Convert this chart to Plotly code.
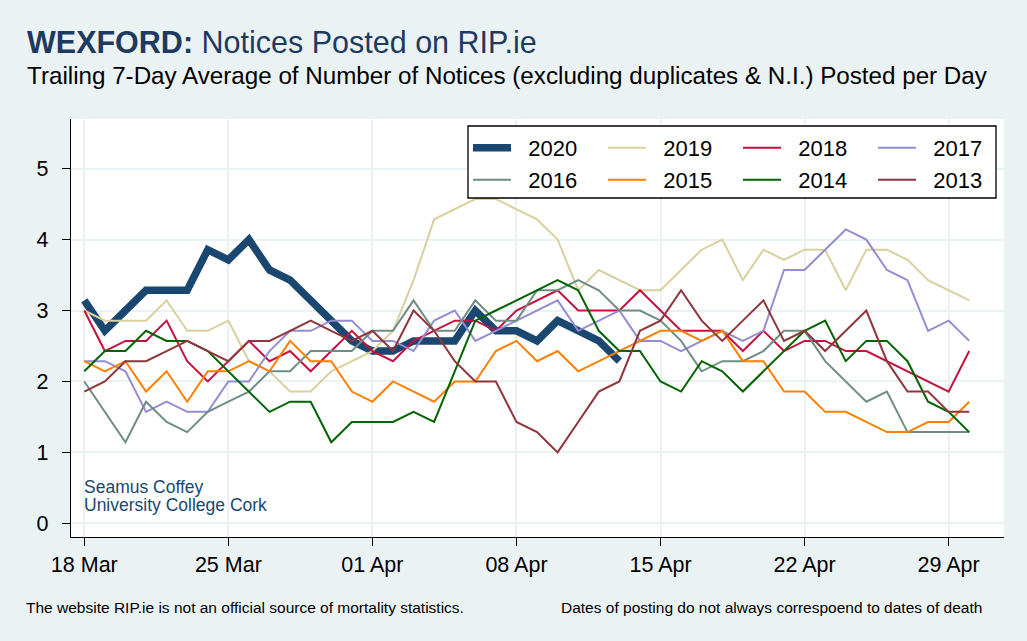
import plotly.graph_objects as go
import pandas as pd

# Trailing 7-day averages (in sevenths)
start_date = "2020-03-18"
n_days = 44
years = ["2020", "2019", "2018", "2017", "2016", "2015", "2014", "2013"]

v2020 = [22,19,21,23,23,23,27,26,28,25,24,22,20,18,17,17,18,18,18,21,19,19,18,20,19,18,16]
v2019 = [21,20,20,20,22,19,19,20,16,15,13, 13,15,16,17,19,24,30,31,32,32,31,
         30,28,23,25,24,23,23,25,27,28,24, 27,26,27,27,23,27,27,26,24,23,22]
v2018 = [21,17,18,18,20,16,14,16,18,16,17, 15,17,19,17,16,18,19,20,20,19,21,
         22,23,21,21,21,23,21,19,19,19,17, 19,17,18,18,17,17,16,15,14,13,17]
v2017 = [16,16,15,11,12,11,11,14,14,17,19, 19,20,20,18,18,17,20,21,18,19,20,
         21,22,19,20,21,18,18,17,18,19,18, 19,25,25,27,29,28,25,24,19,20,18]
v2016 = [14,11,8,12,10,9,11,12,13,15,15, 17,17,17,19,19,22,19,19,22,20,20,
         23,23,24,23,21,21,20,18,15,16,16, 17,19,19,16,14,12,13,9,9,9,9]
v2015 = [16,15,16,13,15,12,15,15,16,15,18, 16,16,13,12,14,13,12,14,14,17,18,
         16,17,15,16,17,18,19,19,18,19,16, 16,13,13,11,11,10,9,9,10,10,12]
v2014 = [15,17,17,19,18,18,17,15,13,11,12, 12,8,10,10,10,11,10,15,20,21,22,
         23,24,23,19,17,17,14,13,16,15,13, 15,17,19,20,16,18,18,16,12,11,9]
v2013 = [13,14,16,16,17,18,17,16,18,18,19, 20,19,18,19,17,21,19,16,14,14,10,
         9,7,10,13,14,19,20,23,20,18,20, 22,18,19,17,19,21,16,13,13,11,11]

series_values = [v2020, v2019, v2018, v2017, v2016, v2015, v2014, v2013]
colors = ["#1a476f", "#d9d09e", "#c8103e", "#938dd2", "#6e8e84", "#ff8000", "#006400", "#90353b"]
widths = [7.5, 2, 2, 2, 2, 2, 2, 2]

dates = pd.date_range(start_date, periods=n_days, freq="D")

FONT = "Liberation Sans, Arial, sans-serif"
BG = "#eaf2f3"

fig = go.Figure()
for i, (yr, vals) in enumerate(zip(years, series_values)):
    fig.add_trace(go.Scatter(
        x=dates[:len(vals)], y=[v / 7 for v in vals], mode="lines",
        name="\u00a0\u00a0" + yr,
        line=dict(color=colors[i], width=widths[i]),
        legend="legend" if i < 4 else "legend2",
    ))

L, R, T, B = 71, 23, 119, 104
W, H = 1027, 641
pw, ph = W - L - R, H - T - B

def px(x):
    return (x - L) / pw

def py(y):
    return (H - B - y) / ph

legend_common = dict(
    orientation="h", xanchor="left", yanchor="top", bgcolor="rgba(0,0,0,0)",
    borderwidth=0, font=dict(family=FONT, size=22, color="black"),
    entrywidth=82, entrywidthmode="pixels", itemwidth=38, tracegroupgap=0,
)

fig.update_layout(
    width=W, height=H, autosize=False,
    margin=dict(l=L, r=R, t=T, b=B),
    paper_bgcolor=BG, plot_bgcolor="white",
    font=dict(family=FONT, color="black"),
    showlegend=True,
    legend=dict(x=px(468), y=py(127), **legend_common),
    legend2=dict(x=px(468), y=py(159), **legend_common),
    xaxis=dict(
        range=["2020-03-17 08:30", "2020-05-01 16:34"],
        tick0=start_date, dtick=7 * 86400000, tickformat="%d %b",
        showgrid=True, gridcolor=BG, gridwidth=2,
        showline=True, linecolor="black", linewidth=1.3,
        ticks="outside", ticklen=8, tickwidth=1.3, tickcolor="black",
        tickfont=dict(family=FONT, size=21.5, color="black"),
        zeroline=False,
    ),
    yaxis=dict(
        range=[-0.193, 5.70], tick0=0, dtick=1,
        showgrid=True, gridcolor=BG, gridwidth=2,
        showline=True, linecolor="black", linewidth=1.3,
        ticks="outside", ticklen=8, tickwidth=1.3, tickcolor="black",
        tickfont=dict(family=FONT, size=21.5, color="black"),
        ticklabelstandoff=9,
        zeroline=False,
    ),
    shapes=[dict(type="rect", xref="paper", yref="paper",
                 x0=px(468), x1=px(996), y0=py(198), y1=py(126),
                 fillcolor="white", line=dict(color="black", width=1.3), layer="above")],
)

ann = []
ann.append(dict(x=px(25), y=py(42), xref="paper", yref="paper", xanchor="left", yanchor="middle",
                text="<b>WEXFORD:</b> Notices Posted on RIP.ie", showarrow=False,
                font=dict(family=FONT, size=30.5, color="#1f3a5f")))
ann.append(dict(x=px(25), y=py(76), xref="paper", yref="paper", xanchor="left", yanchor="middle",
                text="Trailing 7-Day Average of Number of Notices (excluding duplicates &amp; N.I.) Posted per Day",
                showarrow=False, font=dict(family=FONT, size=24.2, color="black")))
ann.append(dict(x=px(82), y=py(487), xref="paper", yref="paper", xanchor="left", yanchor="middle",
                text="Seamus Coffey", showarrow=False, font=dict(family=FONT, size=17.5, color="#1a476f")))
ann.append(dict(x=px(82), y=py(505), xref="paper", yref="paper", xanchor="left", yanchor="middle",
                text="University College Cork", showarrow=False, font=dict(family=FONT, size=17.5, color="#1a476f")))
ann.append(dict(x=px(24), y=py(607), xref="paper", yref="paper", xanchor="left", yanchor="middle",
                text="The website RIP.ie is not an official source of mortality statistics.",
                showarrow=False, font=dict(family=FONT, size=15.5, color="black")))
ann.append(dict(x=px(984), y=py(607), xref="paper", yref="paper", xanchor="right", yanchor="middle",
                text="Dates of posting do not always correspoend to dates of death",
                showarrow=False, font=dict(family=FONT, size=15.5, color="black")))
fig.update_layout(annotations=ann)

fig.write_html("out.html", config={"responsive": False, "displayModeBar": False})

with open("out.html", "r", encoding="utf-8") as f:
    html = f.read()
html = html.replace("<body>", '<body style="margin:0;padding:0;overflow:hidden;">', 1)
with open("out.html", "w", encoding="utf-8") as f:
    f.write(html)
